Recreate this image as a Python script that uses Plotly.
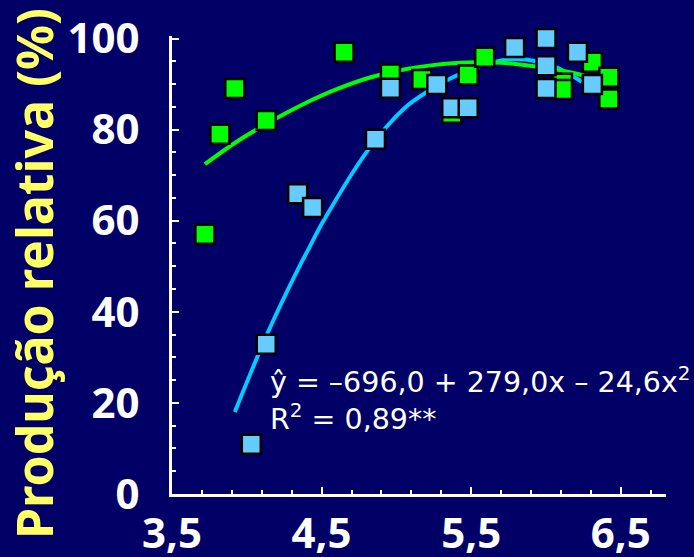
import plotly.graph_objects as go

# --- data ---
green_x = [3.72, 3.82, 3.92, 4.13, 4.65, 4.96, 5.17, 5.37, 5.48, 5.59, 6.11, 6.11, 6.31, 6.42, 6.42]
green_y = [57.0, 79.0, 89.0, 82.0, 97.0, 92.2, 91.0, 83.6, 92.0, 95.9, 90.2, 88.8, 94.8, 91.5, 86.7]

blue_x = [4.03, 4.13, 4.34, 4.44, 4.86, 4.96, 5.27, 5.37, 5.48, 5.79, 6.00, 6.00, 6.00, 6.21, 6.31]
blue_y = [10.9, 32.9, 65.9, 62.9, 77.9, 89.1, 89.9, 84.8, 84.8, 98.0, 100.0, 94.0, 89.0, 97.0, 89.9]

green_fit_x = [3.72, 3.94, 4.21, 4.39, 4.61, 4.83, 5.05, 5.23, 5.40, 5.55, 5.70, 5.92, 6.10, 6.24, 6.30]
green_fit_y = [72.4, 77.5, 82.7, 85.8, 89.0, 91.5, 93.2, 94.1, 94.6, 94.8, 94.7, 93.9, 93.0, 92.0, 91.4]

blue_fit_x = [3.92, 4.14, 4.34, 4.41, 4.51, 4.81, 5.05, 5.22, 5.37, 5.53, 5.70, 5.81, 5.95, 6.08, 6.24]
blue_fit_y = [18.0, 35.4, 49.2, 53.6, 59.8, 75.5, 84.6, 88.6, 91.4, 93.6, 95.2, 95.5, 94.9, 93.5, 90.5]

x_tickvals = [3.5, 4.5, 5.5, 6.5]
x_ticktext = ["3,5", "4,5", "5,5", "6,5"]
y_tickvals = [0, 20, 40, 60, 80, 100]
y_ticktext = ["0", "20", "40", "60", "80", "100"]

equation_text = "ŷ = –696,0 + 279,0x – 24,6x<sup>2</sup><br>R<sup>2</sup> = 0,89**"
y_title = "Produção relativa (%)"

BG = "#000066"
GREEN = "#00FF00"
BLUE_MK = "#66CCFF"
BLUE_LN = "#00CCFF"
TICKFONT = dict(family="Noto Sans", size=42, color="white", weight="bold")

fig = go.Figure()
fig.add_trace(go.Scatter(x=blue_fit_x, y=blue_fit_y, mode="lines",
                         line=dict(color=BLUE_LN, width=4, shape="spline"),
                         hoverinfo="skip", showlegend=False))
fig.add_trace(go.Scatter(x=green_fit_x, y=green_fit_y, mode="lines",
                         line=dict(color=GREEN, width=4, shape="spline"),
                         hoverinfo="skip", showlegend=False))
fig.add_trace(go.Scatter(x=green_x, y=green_y, mode="markers", cliponaxis=False,
                         marker=dict(symbol="square", size=19, color=GREEN,
                                     line=dict(color="black", width=2.5)),
                         showlegend=False))
fig.add_trace(go.Scatter(x=blue_x, y=blue_y, mode="markers", cliponaxis=False,
                         marker=dict(symbol="square", size=19, color=BLUE_MK,
                                     line=dict(color="black", width=2.5)),
                         showlegend=False))

fig.update_xaxes(range=[3.5, 6.802], tickvals=x_tickvals, ticktext=x_ticktext,
                 automargin=False,
                 showgrid=False, zeroline=False, showline=True, linecolor="white", linewidth=3,
                 ticks="inside", ticklen=7, tickwidth=2, tickcolor="white",
                 minor=dict(ticks="inside", ticklen=4, tickwidth=2, tickcolor="white",
                            tickmode="linear", tick0=3.5, dtick=0.2),
                 tickfont=TICKFONT, ticklabelstandoff=1)
fig.update_yaxes(range=[0, 100.55], tickvals=y_tickvals, ticktext=y_ticktext,
                 automargin=False,
                 showgrid=False, zeroline=False, showline=True, linecolor="white", linewidth=3,
                 ticks="inside", ticklen=7, tickwidth=2, tickcolor="white",
                 minor=dict(ticks="inside", ticklen=4, tickwidth=2, tickcolor="white",
                            tickmode="linear", tick0=0, dtick=5),
                 tickfont=TICKFONT, ticklabelstandoff=21)

fig.add_annotation(text=equation_text, xref="x", yref="y", x=4.14, y=21.0,
                   xanchor="left", yanchor="middle", align="left", showarrow=False,
                   font=dict(family="DejaVu Sans", size=28.5, color="white"))
fig.add_annotation(text=y_title, xref="paper", yref="paper", x=-0.2794, y=0.4825,
                   xanchor="center", yanchor="middle", textangle=-90, showarrow=False,
                   font=dict(family="Noto Sans", size=50, color="#FFFF66", weight="bold"))

fig.update_layout(width=694, height=557, paper_bgcolor=BG, plot_bgcolor=BG,
                  margin=dict(l=172, r=28, t=36, b=63), showlegend=False)

fig.write_html("out.html")
